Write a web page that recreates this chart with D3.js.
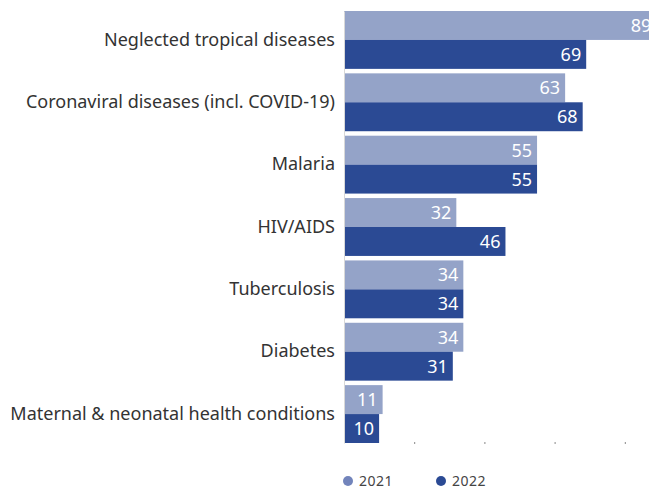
<!DOCTYPE html>
<html>
<head>
<meta charset="utf-8">
<script src="https://cdn.jsdelivr.net/npm/d3@7"></script>
<style>
  html, body { margin: 0; padding: 0; background: #fff; }
  svg { display: block; font-family: "Noto Sans", "Open Sans", sans-serif; }
</style>
</head>
<body>
<svg id="chart" width="649" height="488"></svg>
<script>
// Number of R&D projects by disease area
const categories = [
  "Neglected tropical diseases",
  "Coronaviral diseases (incl. COVID-19)",
  "Malaria",
  "HIV/AIDS",
  "Tuberculosis",
  "Diabetes",
  "Maternal & neonatal health conditions"
];
const years = ["2021", "2022"];
const values2021 = [89, 63, 55, 32, 34, 34, 11];
const values2022 = [69, 68, 55, 46, 34, 31, 10];
const xTicks = [0, 20, 40, 60, 80];

const colors = { "2021": "#94a3c8", "2022": "#2b4a94" };
const legendColors = { "2021": "#7284bb", "2022": "#2b4a94" };

const svg = d3.select("#chart");
const top0 = 11, bottom0 = 443, left0 = 344;

const x = d3.scaleLinear().domain([0, 100]).range([left0, left0 + 351]);
const y = d3.scaleBand().domain(categories).range([top0, bottom0]).paddingInner(0.072).paddingOuter(0);
const sub = d3.scaleBand().domain(years).range([0, y.bandwidth()]);

const rows = categories.map((c, i) => ({ cat: c, vals: [
  { year: "2021", v: values2021[i] },
  { year: "2022", v: values2022[i] }
]}));

const bars = svg.append("g").selectAll("g").data(rows).join("g")
  .attr("transform", d => `translate(0,${y(d.cat)})`);

bars.selectAll("rect").data(d => d.vals).join("rect")
  .attr("x", x(0))
  .attr("y", d => sub(d.year))
  .attr("width", d => x(d.v) - x(0))
  .attr("height", sub.bandwidth())
  .attr("fill", d => colors[d.year]);

bars.selectAll("text").data(d => d.vals).join("text")
  .attr("x", d => x(d.v) - 5)
  .attr("y", d => sub(d.year) + sub.bandwidth() / 2)
  .attr("dy", "0.36em")
  .attr("text-anchor", "end")
  .attr("fill", "#fff")
  .attr("font-size", 18)
  .text(d => d.v);

// Category axis
const yAxis = svg.append("g")
  .attr("transform", `translate(${x(0)},0)`)
  .call(d3.axisLeft(y).tickSize(0).tickPadding(9));
yAxis.select(".domain").attr("stroke", "#d8d8d8");
yAxis.selectAll("text").attr("font-size", 18).attr("fill", "#333")
  .style("font-family", "'Noto Sans', sans-serif");

// Value axis: ticks only
const xAxis = svg.append("g")
  .attr("transform", `translate(0,${bottom0 - 1})`)
  .call(d3.axisBottom(x).tickValues(xTicks).tickSize(2).tickFormat(""));
xAxis.select(".domain").remove();
xAxis.selectAll(".tick line").attr("stroke", "#888");
xAxis.selectAll(".tick").filter(d => d === 0).remove();

// Legend
const legend = svg.append("g").attr("transform", "translate(348,481)");
const items = legend.selectAll("g").data(years).join("g")
  .attr("transform", (d, i) => `translate(${i * 93},0)`);
items.append("circle").attr("r", 5).attr("fill", d => legendColors[d]);
items.append("text").attr("x", 11).attr("dy", "0.36em").attr("font-size", 14)
  .attr("letter-spacing", 0.5)
  .attr("fill", "#444").text(d => d);
</script>
</body>
</html>
